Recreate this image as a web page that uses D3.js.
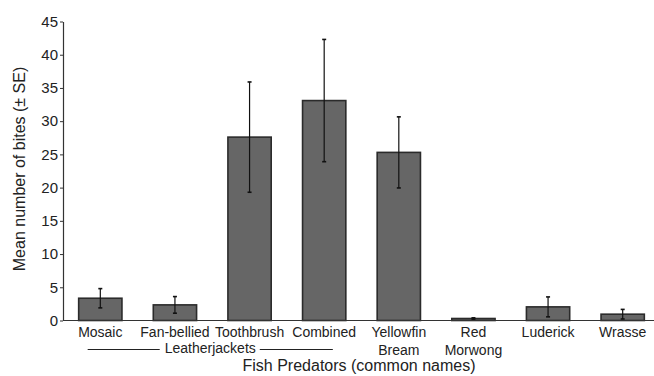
<!DOCTYPE html>
<html>
<head>
<meta charset="utf-8">
<script src="https://cdn.jsdelivr.net/npm/d3@7"></script>
<style>
  html, body { margin: 0; padding: 0; background: #fff; }
  svg { display: block; font-family: "Liberation Sans", Arial, Helvetica, sans-serif; }
</style>
</head>
<body>
<svg id="chart" width="654" height="376"></svg>
<script>
// Mean bites per predator species, with standard errors
const categories = [["Mosaic"], ["Fan-bellied"], ["Toothbrush"], ["Combined"],
                    ["Yellowfin", "Bream"], ["Red", "Morwong"], ["Luderick"], ["Wrasse"]];
const meanBites = [3.35, 2.35, 27.6, 33.1, 25.3, 0.3, 2.05, 0.95];
const seBites   = [1.45, 1.25, 8.3, 9.2, 5.35, 0.1, 1.5, 0.72];
const yTicks    = [0, 5, 10, 15, 20, 25, 30, 35, 40, 45];
const groupLabel = "Leatherjackets";
const groupMembers = [0, 3]; // first and last bar of the leatherjacket group

const svg = d3.select("#chart");
const keys = categories.map(c => c.join(" "));

const x = d3.scaleBand().domain(keys).range([63, 660])
  .paddingInner(0.42).paddingOuter(0.21);
const y = d3.scaleLinear().domain([0, 45]).range([320.5, 21.5]);

// bars
svg.append("g").selectAll("rect").data(meanBites).join("rect")
  .attr("x", (d, i) => x(keys[i]))
  .attr("width", x.bandwidth())
  .attr("y", d => y(d))
  .attr("height", d => y(0) - y(d))
  .attr("fill", "#666")
  .attr("stroke", "#2b2b2b")
  .attr("stroke-width", 1.6);

// error bars
const eb = svg.append("g").attr("stroke", "#111").attr("stroke-width", 1.2);
meanBites.forEach((m, i) => {
  const cx = x(keys[i]) + x.bandwidth() / 2;
  const lo = y(Math.max(0, m - seBites[i])), hi = y(m + seBites[i]);
  eb.append("line").attr("x1", cx).attr("x2", cx).attr("y1", lo).attr("y2", hi);
  [lo, hi].forEach(v => eb.append("line")
    .attr("x1", cx - 2).attr("x2", cx + 2).attr("y1", v).attr("y2", v)
    .attr("stroke-width", 1.6));
});

// y axis
const yAxis = svg.append("g").attr("transform", "translate(63,0)")
  .call(d3.axisLeft(y).tickValues(yTicks).tickSize(3).tickSizeOuter(0).tickPadding(2));
yAxis.select(".domain").attr("stroke", "#333").attr("stroke-width", 1.2);
yAxis.selectAll(".tick line").attr("stroke", "#333");
yAxis.selectAll(".tick text").attr("font-size", 15).attr("fill", "#222")
  .attr("font-family", "Liberation Sans, Arial, sans-serif");

// x axis baseline
const xAxis = svg.append("g").attr("transform", `translate(0,${y(0)})`)
  .call(d3.axisBottom(x).tickSize(0).tickFormat(""));
xAxis.select(".domain").attr("d", "M63,0H654").attr("stroke", "#333").attr("stroke-width", 1.2);

// category labels (one or two lines)
const lab = svg.append("g").attr("font-size", 14).attr("fill", "#222").attr("text-anchor", "middle");
categories.forEach((lines, i) => {
  const t = lab.append("text").attr("x", x(keys[i]) + x.bandwidth() / 2).attr("y", 337);
  lines.forEach((s, j) => t.append("tspan")
    .attr("x", x(keys[i]) + x.bandwidth() / 2).attr("dy", j === 0 ? 0 : 17.5).text(s));
});

// group bracket under the leatherjacket species
const gx0 = x(keys[groupMembers[0]]) + 9;
const gx1 = x(keys[groupMembers[1]]) + x.bandwidth() - 13;
const gmid = (gx0 + gx1) / 2;
const grp = svg.append("g");
const gText = grp.append("text").attr("x", gmid).attr("y", 353)
  .attr("text-anchor", "middle").attr("font-size", 14).attr("fill", "#222").text(groupLabel);
const tw = gText.node().getComputedTextLength();
grp.append("line").attr("x1", gx0).attr("x2", gmid - tw / 2 - 5)
  .attr("y1", 349.5).attr("y2", 349.5).attr("stroke", "#222").attr("stroke-width", 1.2);
grp.append("line").attr("x1", gmid + tw / 2 + 4).attr("x2", gx1)
  .attr("y1", 349.5).attr("y2", 349.5).attr("stroke", "#222").attr("stroke-width", 1.2);

// axis titles
svg.append("text").attr("x", 359).attr("y", 371).attr("text-anchor", "middle")
  .attr("font-size", 16).attr("fill", "#222").text("Fish Predators (common names)");
svg.append("text").attr("transform", "translate(25,169) rotate(-90)")
  .attr("text-anchor", "middle").attr("font-size", 16).attr("fill", "#222")
  .text("Mean number of bites (± SE)");
</script>
</body>
</html>
